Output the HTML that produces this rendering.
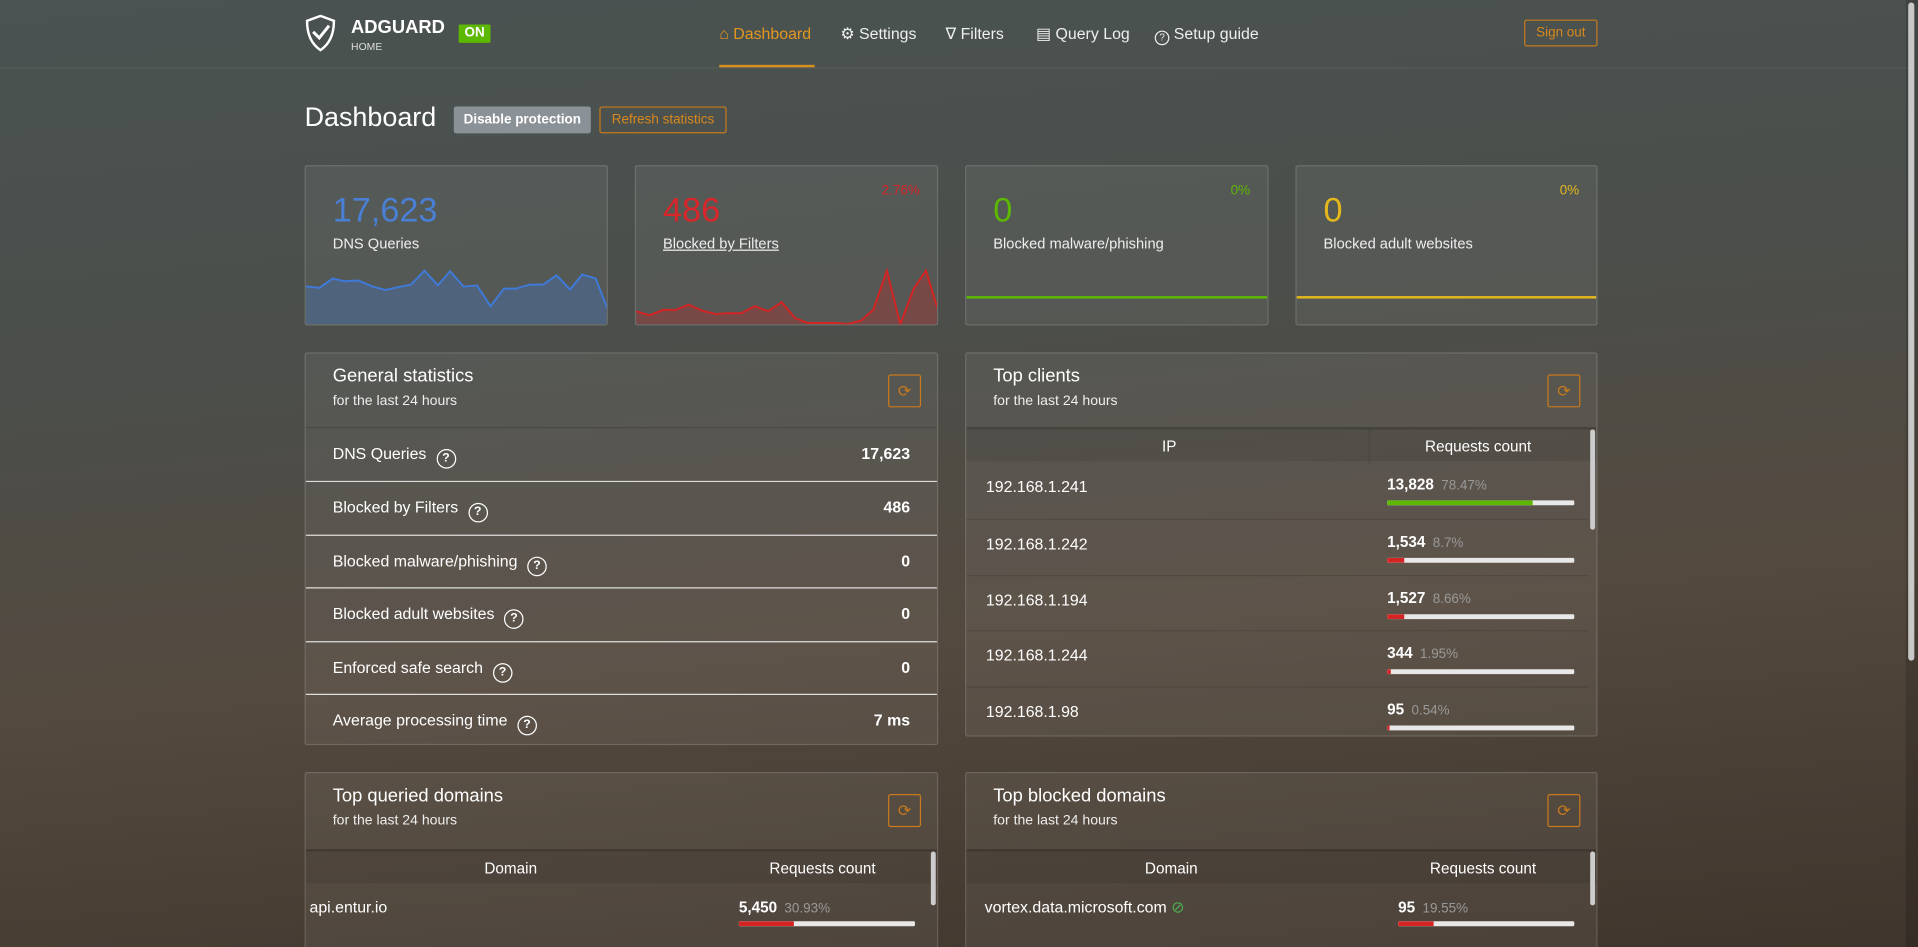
<!DOCTYPE html>
<html><head><meta charset="utf-8"><style>
*{margin:0;padding:0;box-sizing:border-box}
html,body{width:1918px;height:947px;overflow:hidden;background:#3f352c}
body{background:linear-gradient(175deg,#4a5352 0%,#4b4e4a 35%,#54493e 65%,#3f352c 100%);font-family:"Liberation Sans",sans-serif;color:#fff}
#w{position:absolute;left:0;top:0;width:1568px;height:774px;overflow:hidden;transform:scale(1.22321,1.2235);transform-origin:0 0}
.a{position:absolute;white-space:nowrap}
.card{position:absolute;background:rgba(255,255,255,0.06);border:1px solid rgba(255,255,255,0.14);border-radius:2px;overflow:hidden}
.big{position:absolute;left:22px;top:20px;font-size:28px;font-weight:300}
.lbl{position:absolute;left:22px;top:56px;font-size:12px;color:#eee}
.pct{position:absolute;right:14px;top:14px;font-size:11px}
.t{font-size:15px;position:absolute;left:22px;top:10px}
.s{font-size:11.5px;position:absolute;left:22px;top:33px;color:#eee}
.rb{position:absolute;width:27px;height:27px;border:1px solid #c87a1c;border-radius:2px;color:#c87a1c;font-size:13px;text-align:center;line-height:25px}
.row{position:absolute;left:0;right:0;height:43.6px;border-top:1px solid rgba(255,255,255,0.8);font-size:13px}
.row .l{position:absolute;left:22px;top:13px}
.row .v{position:absolute;right:22px;top:13px;font-weight:bold}
.q{display:inline-block;width:16px;height:16px;border:1.5px solid #fff;border-radius:50%;font-size:10px;font-weight:bold;text-align:center;line-height:13px;margin-left:8px;vertical-align:-2px}
.th{position:absolute;left:0;right:0;height:28px;background:rgba(0,0,0,0.08);border-top:2px solid rgba(0,0,0,0.15);font-size:12.5px}
.tr{position:absolute;left:0;right:6px;height:45.8px;border-top:1px solid rgba(0,0,0,0.12);font-size:13px}
.bar{position:absolute;height:4px;background:#e8e8e8;border-radius:1px;overflow:hidden}
.bar i{position:absolute;left:0;top:0;bottom:0}
.n{font-weight:bold;font-size:12.5px}
.p{color:#999;font-size:11px;margin-left:6px}
.nav{position:absolute;top:20px;font-size:13px;color:#eee}
</style></head><body><div id="w">
<div class="a" style="left:0;top:55px;width:1560px;height:1px;background:rgba(255,255,255,0.07)"></div>
<div class="a" style="left:1558px;top:0;width:10px;height:774px;background:rgba(0,0,0,0.15)"></div>
<div class="a" style="left:1560px;top:2px;width:5px;height:538px;background:#c8c8c8;border-radius:3px"></div>
<svg class="a" style="left:249px;top:12px" width="26" height="30" viewBox="0 0 26 30"><path d="M13 1 L24 5 C24 18 19 25 13 29 C7 25 2 18 2 5 Z" fill="none" stroke="#fff" stroke-width="2"/><path d="M7 14 L12 19 L20 9" fill="none" stroke="#fff" stroke-width="2.4"/></svg>
<div class="a" style="left:287px;top:14px;font-size:15px;font-weight:bold">ADGUARD</div>
<div class="a" style="left:287px;top:33px;font-size:8.5px;color:#ddd">HOME</div>
<div class="a" style="left:375px;top:20px;width:26px;height:15px;background:#5cb800;font-size:11px;font-weight:bold;text-align:center;line-height:15px;border-radius:1px">ON</div>
<div class="nav" style="left:588px;color:#e3961f">⌂ Dashboard</div>
<div class="a" style="left:588px;top:53px;width:78px;height:2px;background:#d8901d"></div>
<div class="nav" style="left:687px">⚙ Settings</div>
<div class="nav" style="left:773px">∇ Filters</div>
<div class="nav" style="left:847px">▤ Query Log</div>
<div class="nav" style="left:944px"><span style="display:inline-block;width:12px;height:12px;border:1.3px solid #eee;border-radius:50%;font-size:8px;text-align:center;line-height:10px;vertical-align:-1px">?</span> Setup guide</div>
<div class="a" style="left:1246px;top:16px;width:60px;height:22px;border:1px solid #c87a1c;color:#d8891d;font-size:11px;text-align:center;line-height:20px;border-radius:2px">Sign out</div>
<div class="a" style="left:249px;top:83px;font-size:22px;font-weight:300">Dashboard</div>
<div class="a" style="left:371px;top:87px;width:112px;height:22px;background:#8b9297;border-radius:2px;font-size:11px;font-weight:bold;text-align:center;line-height:22px">Disable protection</div>
<div class="a" style="left:490px;top:87px;width:104px;height:22px;border:1px solid #c87a1c;border-radius:2px;font-size:11px;color:#d8891d;text-align:center;line-height:20px">Refresh statistics</div>

<div class="card" style="left:249px;top:135px;width:248px;height:131px">
<div class="big" style="color:#4a7fd6">17,623</div><div class="lbl">DNS Queries</div>
<svg class="a" style="left:0;top:0" width="248" height="131" viewBox="249 135 248 131"><polygon fill="rgba(70,120,200,0.35)" stroke="none" points="249,266 249,233 260,234.3 271,226.7 281,228.9 292,228.3 303,233 314,236 324,233.8 335,231.6 346,220.2 357,232.2 367,220.7 378,233.2 389,232.4 400,249.3 411,234.9 421,234.9 432,231.6 443,231.6 454,224 465,235.7 475,223.4 486,226.7 497,254.8 497,266"/><polyline fill="none" stroke="#3f7ad8" stroke-width="1.6" points="249,233 260,234.3 271,226.7 281,228.9 292,228.3 303,233 314,236 324,233.8 335,231.6 346,220.2 357,232.2 367,220.7 378,233.2 389,232.4 400,249.3 411,234.9 421,234.9 432,231.6 443,231.6 454,224 465,235.7 475,223.4 486,226.7 497,254.8"/></svg>
</div>
<div class="card" style="left:519px;top:135px;width:248px;height:131px">
<div class="big" style="color:#d8262a">486</div><div class="lbl" style="text-decoration:underline">Blocked by Filters</div><div class="pct" style="color:#d8262a">2.76%</div>
<svg class="a" style="left:0;top:0" width="248" height="131" viewBox="0 0 248 131"><g transform="translate(-519,-135)"><polygon fill="rgba(200,40,40,0.3)" points="519,266 519,253.4 530,256.7 541,252.3 551,252.3 562,248 573,252.9 584,255.6 595,255 605,255 616,249.3 627,253.4 638,246 649,258.9 659,262.9 670,262.9 681,262.9 692,263.8 703,261 713,252 724,220.2 735,263.8 746,234.9 756,220.2 767,256.1 767,266"/><polyline fill="none" stroke="#d42424" stroke-width="1.6" points="519,253.4 530,256.7 541,252.3 551,252.3 562,248 573,252.9 584,255.6 595,255 605,255 616,249.3 627,253.4 638,246 649,258.9 659,262.9 670,262.9 681,262.9 692,263.8 703,261 713,252 724,220.2 735,263.8 746,234.9 756,220.2 767,256.1"/></g></svg>
</div>
<div class="card" style="left:789px;top:135px;width:248px;height:131px">
<div class="big" style="color:#5cb800">0</div><div class="lbl">Blocked malware/phishing</div><div class="pct" style="color:#5cb800">0%</div>
<div class="a" style="left:0;right:0;top:106px;height:2px;background:#5cb800"></div>
</div>
<div class="card" style="left:1059px;top:135px;width:247px;height:131px">
<div class="big" style="color:#e4b81c">0</div><div class="lbl">Blocked adult websites</div><div class="pct" style="color:#e4b81c">0%</div>
<div class="a" style="left:0;right:0;top:106px;height:2px;background:#e4b81c"></div>
</div>

<div class="card" style="left:249px;top:288px;width:518px;height:321px">
<div class="t">General statistics</div><div class="s">for the last 24 hours</div>
<div class="rb" style="left:476px;top:17px">⟳</div>
<div class="a" style="left:0;right:0;top:60px;height:1px;background:rgba(0,0,0,0.15)"></div>
<div class="row" style="top:61px;border-top:none"><span class="l">DNS Queries<span class="q">?</span></span><span class="v">17,623</span></div>
<div class="row" style="top:104px"><span class="l">Blocked by Filters<span class="q">?</span></span><span class="v">486</span></div>
<div class="row" style="top:147.5px"><span class="l">Blocked malware/phishing<span class="q">?</span></span><span class="v">0</span></div>
<div class="row" style="top:191px"><span class="l">Blocked adult websites<span class="q">?</span></span><span class="v">0</span></div>
<div class="row" style="top:234.5px"><span class="l">Enforced safe search<span class="q">?</span></span><span class="v">0</span></div>
<div class="row" style="top:278px"><span class="l">Average processing time<span class="q">?</span></span><span class="v">7 ms</span></div>
</div>

<div class="card" style="left:789px;top:288px;width:517px;height:314px">
<div class="t">Top clients</div><div class="s">for the last 24 hours</div>
<div class="rb" style="left:475px;top:17px">⟳</div>
<div class="th" style="top:60px"><span class="a" style="left:160px;top:7px">IP</span><span class="a" style="left:375px;top:7px">Requests count</span><span class="a" style="left:329px;top:0;width:1px;height:28px;background:rgba(0,0,0,0.1)"></span></div>
<div class="a" style="left:510px;top:62px;width:4px;height:82px;background:#ccc;border-radius:2px"></div>
<div class="tr" style="top:89px;border-top:none"><span class="a" style="left:16px;top:12px">192.168.1.241</span><span class="a" style="left:344px;top:10px"><span class="n">13,828</span><span class="p">78.47%</span></span><div class="bar" style="left:344px;top:31px;width:153px"><i style="width:78%;background:#5cb800"></i></div></div>
<div class="tr" style="top:135px"><span class="a" style="left:16px;top:12px">192.168.1.242</span><span class="a" style="left:344px;top:10px"><span class="n">1,534</span><span class="p">8.7%</span></span><div class="bar" style="left:344px;top:31px;width:153px"><i style="width:9%;background:#d42424"></i></div></div>
<div class="tr" style="top:181px"><span class="a" style="left:16px;top:12px">192.168.1.194</span><span class="a" style="left:344px;top:10px"><span class="n">1,527</span><span class="p">8.66%</span></span><div class="bar" style="left:344px;top:31px;width:153px"><i style="width:9%;background:#d42424"></i></div></div>
<div class="tr" style="top:226px"><span class="a" style="left:16px;top:12px">192.168.1.244</span><span class="a" style="left:344px;top:10px"><span class="n">344</span><span class="p">1.95%</span></span><div class="bar" style="left:344px;top:31px;width:153px"><i style="width:2%;background:#d42424"></i></div></div>
<div class="tr" style="top:272px"><span class="a" style="left:16px;top:12px">192.168.1.98</span><span class="a" style="left:344px;top:10px"><span class="n">95</span><span class="p">0.54%</span></span><div class="bar" style="left:344px;top:31px;width:153px"><i style="width:1%;background:#d42424"></i></div></div>
</div>

<div class="card" style="left:249px;top:631px;width:518px;height:160px">
<div class="t">Top queried domains</div><div class="s">for the last 24 hours</div>
<div class="rb" style="left:476px;top:17px">⟳</div>
<div class="th" style="top:62px"><span class="a" style="left:146px;top:7px">Domain</span><span class="a" style="left:379px;top:7px">Requests count</span></div>
<div class="a" style="left:511px;top:64px;width:4px;height:44px;background:#ccc;border-radius:2px"></div>
<div class="a" style="left:3px;top:102px;font-size:13px">api.entur.io</div>
<div class="a" style="left:354px;top:101px"><span class="n">5,450</span><span class="p">30.93%</span></div>
<div class="bar" style="left:354px;top:121px;width:144px"><i style="width:31%;background:#d42424"></i></div>
</div>
<div class="card" style="left:789px;top:631px;width:517px;height:160px">
<div class="t">Top blocked domains</div><div class="s">for the last 24 hours</div>
<div class="rb" style="left:475px;top:17px">⟳</div>
<div class="th" style="top:62px"><span class="a" style="left:146px;top:7px">Domain</span><span class="a" style="left:379px;top:7px">Requests count</span></div>
<div class="a" style="left:510px;top:64px;width:4px;height:44px;background:#ccc;border-radius:2px"></div>
<div class="a" style="left:15px;top:102px;font-size:13px">vortex.data.microsoft.com <span style="color:#4caf50">⊘</span></div>
<div class="a" style="left:353px;top:101px"><span class="n">95</span><span class="p">19.55%</span></div>
<div class="bar" style="left:353px;top:121px;width:144px"><i style="width:20%;background:#d42424"></i></div>
</div>
</div></body></html>
